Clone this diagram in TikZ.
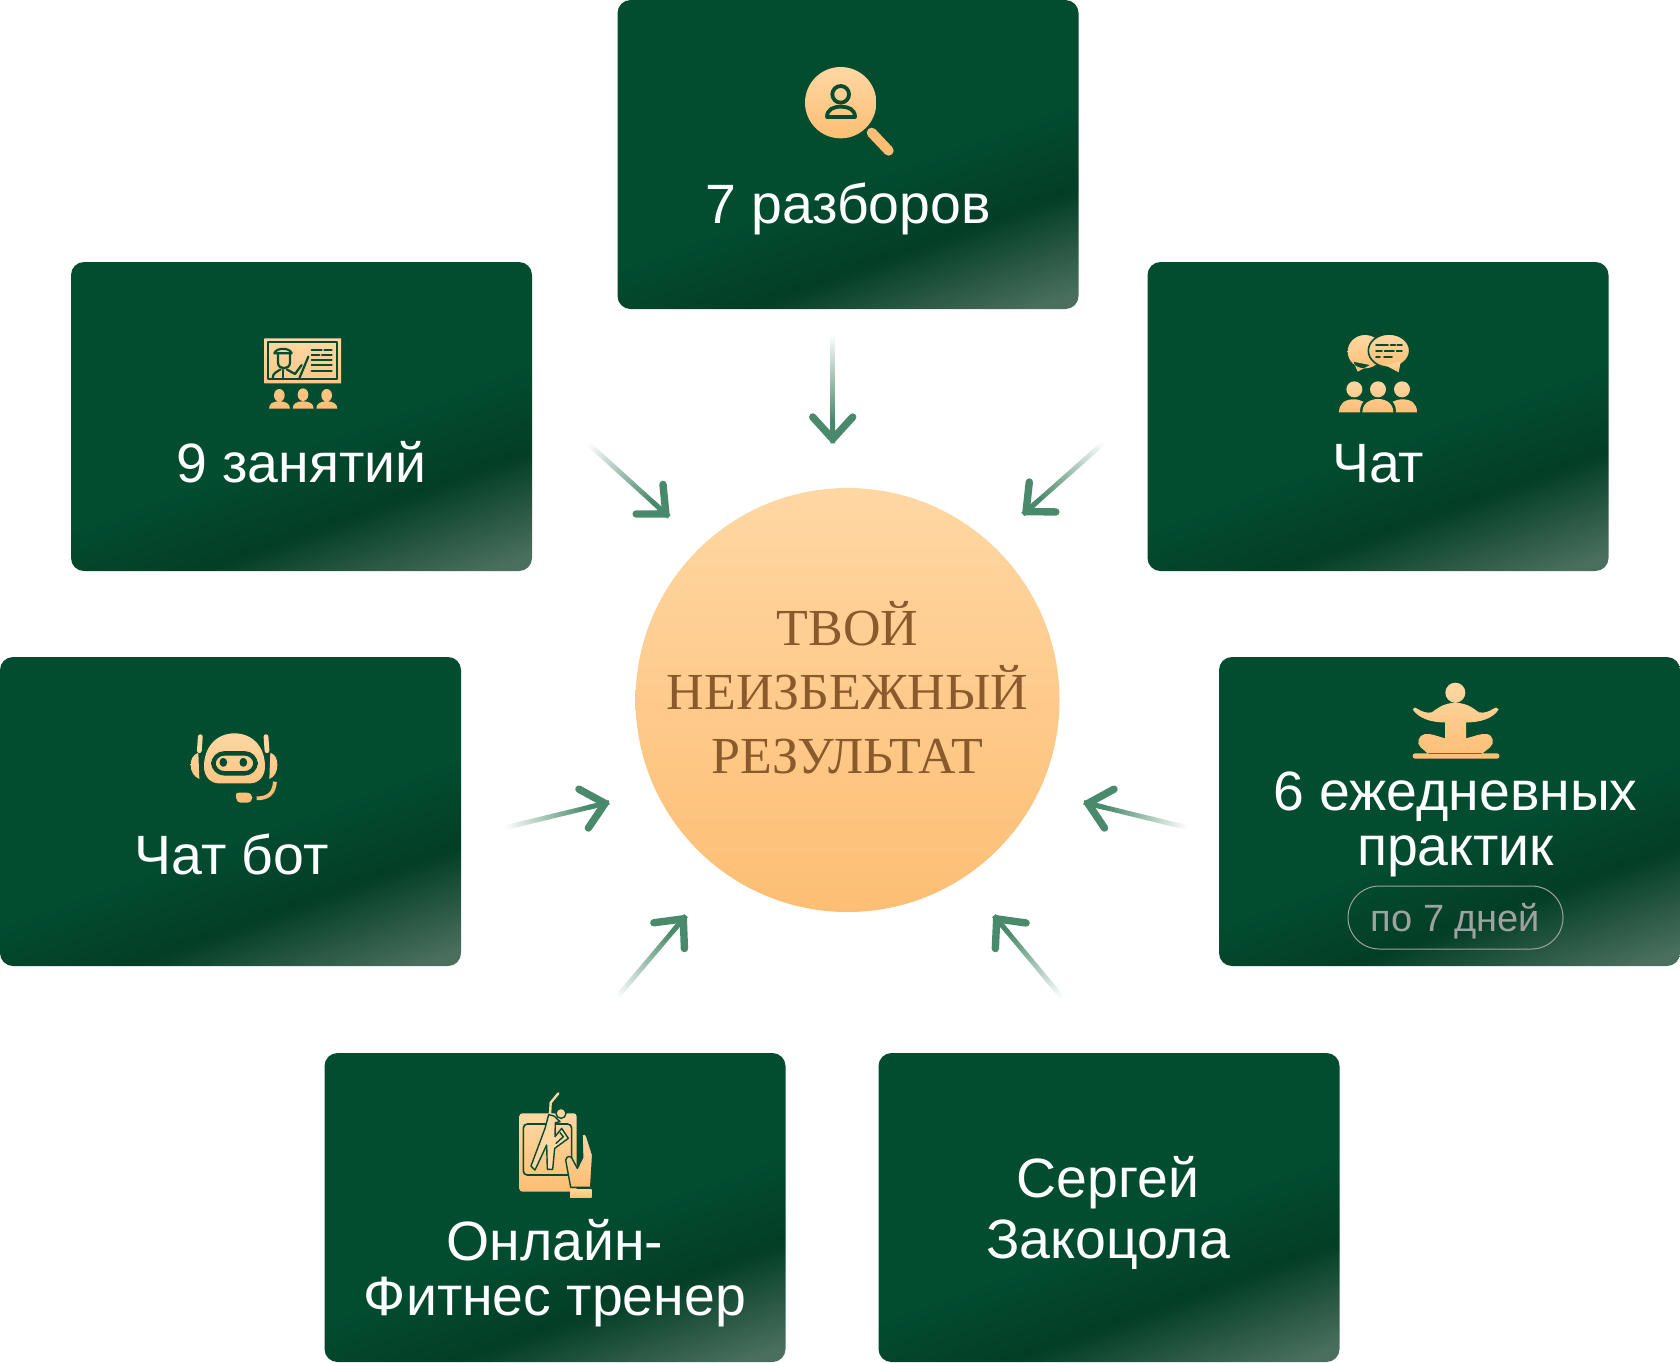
\documentclass[tikz,border=0pt]{standalone}
\usepackage{fontspec}
\setmainfont{Liberation Sans}
\newfontfamily\resultfont{Liberation Serif}
\usetikzlibrary{arrows.meta,calc}
\definecolor{cardgreen}{HTML}{024C30}
\definecolor{carddark}{HTML}{033E26}
\definecolor{cardlight}{HTML}{4A6F5E}
\definecolor{peachtop}{HTML}{FFD7A3}
\definecolor{peachlow}{HTML}{FDBE74}
\definecolor{arrowgreen}{HTML}{4A8A6C}
\definecolor{resultbrown}{HTML}{8A5A2C}
\definecolor{pillgray}{HTML}{9DA39F}
\pgfdeclareverticalshading{cardshade}{100bp}{color(0bp)=(cardlight); color(20bp)=(cardlight); color(34bp)=(carddark); color(46bp)=(cardgreen); color(100bp)=(cardgreen)}
\tikzset{
  card/.style={rectangle,shade,shading=cardshade,shading angle=20,rounded corners=6.5pt,
    minimum width=230.5pt,minimum height=154.5pt,inner sep=0pt},
  cardtext/.style={text=white,align=center,inner sep=0pt,font=\fontsize{27.7}{27.5}\selectfont},
  iconbox/.style={x=0.16667pt,y=-0.16667pt},
  iconfill/.style={top color=peachtop,bottom color=peachlow},
  iconline/.style={draw=cardgreen,line width=1.1pt,line cap=round,line join=round},
  iconstroke/.style={draw=peachlow,line cap=round,line join=round},
  shaft/.style={line width=2.4pt}
}
\newcommand{\fadearrow}[2]{
  \foreach \i in {0,...,39}{
    \pgfmathsetmacro{\mixpct}{min(100,\i*3.2)}
    \draw[shaft,arrowgreen!\mixpct!white]($(#1)!{\i/40}!(#2)$)--($(#1)!{(\i+1.2)/40}!(#2)$);
  }
  \draw[shaft,arrowgreen,-{Straight Barb[length=11pt,width=20pt,line width=3.7pt,round]}]($(#1)!0.8!(#2)$)--(#2);
}
\begin{document}
\begin{tikzpicture}[x=0.5pt,y=-0.5pt]
\useasboundingbox (0,0) rectangle (1680,1362);
%cards
\node[card] (razbor) at (848,154.5) {};
\node[card] (lessons) at (301.5,416.5) {};
\node[card] (chat) at (1378,416.5) {};
\node[card] (bot) at (230.5,811.5) {};
\node[card] (practice) at (1449.5,811.5) {};
\node[card] (trainer) at (555,1207.5) {};
\node[card] (sergey) at (1109,1207.5) {};
%result
\node[circle,top color=peachtop,bottom color=peachlow,minimum size=212pt,inner sep=0pt] (result) at (847.5,700) {};
\node[text=resultbrown,align=center,inner sep=0pt,font=\resultfont\fontsize{26}{32}\selectfont] (resulttext) at (847.5,687.5) {ТВОЙ\\НЕИЗБЕЖНЫЙ\\РЕЗУЛЬТАТ};
%labels
\node[cardtext,anchor=base] (razbortext) at (848,223) {7 разборов};
\node[cardtext,anchor=base] (lessonstext) at (301.5,482) {9 занятий};
\node[cardtext,anchor=base] (chattext) at (1378,482) {Чат};
\node[cardtext,anchor=base] (bottext) at (231.5,874) {Чат бот};
\node[cardtext] (practicetext) at (1455.5,824) {6 ежедневных\\практик};
\node[cardtext] (trainertext) at (555,1273) {Онлайн-\\Фитнес тренер};
\node[cardtext,font=\fontsize{27.7}{30.5}\selectfont] (sergeytext) at (1108,1213) {Сергей\\Закоцола};
\node[rectangle,draw=pillgray,line width=0.5pt,rounded corners=15.7pt,minimum width=107.5pt,minimum height=31.5pt,
  inner sep=0pt,text=pillgray,text height=14pt,text depth=0pt,font=\fontsize{19}{20}\selectfont] (days) at (1455.5,917.5) {по 7 дней};
%arrows
\coordinate (a1) at (832.7,333);
\coordinate (b1) at (832.7,442.7);
\coordinate (a2) at (1105,441.7);
\coordinate (b2) at (1023.3,514);
\coordinate (a3) at (587,442.5);
\coordinate (b3) at (668.6,516.4);
\coordinate (a4) at (503.6,828);
\coordinate (b4) at (608.6,802.5);
\coordinate (a5) at (1189,828);
\coordinate (b5) at (1084.3,802.5);
\coordinate (a6) at (616,998.6);
\coordinate (b6) at (685.7,916);
\coordinate (a7) at (1063,998.6);
\coordinate (b7) at (994.3,916);
\fadearrow{a1}{b1}
\fadearrow{a2}{b2}
\fadearrow{a3}{b3}
\fadearrow{a4}{b4}
\fadearrow{a5}{b5}
\fadearrow{a6}{b6}
\fadearrow{a7}{b7}
%search icon
\begin{scope}[shift={(600,0)},iconbox]
\path[iconfill] (722,308) circle[radius=107];
\draw[iconstroke,line width=5pt] (815,398)--(866,452);
\draw[iconline,line width=1.9pt] (722,283) circle[radius=25];
\draw[iconline,line width=1.9pt] (681,351)--(765,351) .. controls (765,328) and (745,320) .. (723,320) .. controls (700,320) and (681,328) .. (681,351)--cycle;
\end{scope}
%lessons icon
\begin{scope}[shift={(240,320)},iconbox]
\path[iconfill] (73,55) rectangle (303,190)
  (118,226) circle[x radius=16,y radius=19] (87,266) .. controls (87,250) and (100,244) .. (118,244) .. controls (136,244) and (150,250) .. (150,266)--cycle
  (189,224) circle[x radius=16,y radius=19] (158,266) .. controls (158,250) and (171,244) .. (189,244) .. controls (207,244) and (221,250) .. (221,266)--cycle
  (260,226) circle[x radius=16,y radius=19] (229,266) .. controls (229,250) and (242,244) .. (260,244) .. controls (278,244) and (292,250) .. (292,266)--cycle;
\draw[iconline] (85,67) rectangle (292,178);
\draw[iconline] (103,100) .. controls (108,82) and (150,82) .. (155,100)--cycle;
\draw[iconline] (114,102)--(114,128) .. controls (114,150) and (150,150) .. (150,128)--(150,102);
\draw[iconline] (98,175) .. controls (98,158) and (112,155) .. (122,148);
\draw[iconline] (140,148)--(165,162)--(185,135);
\draw[iconline] (178,175)--(205,110);
\draw[iconline] (130,150)--(130,172);
\draw[iconline] (215,90)--(245,90);
\draw[iconline] (253,90)--(275,90);
\draw[iconline] (215,104)--(238,104);
\draw[iconline] (246,104)--(275,104);
\draw[iconline] (215,120)--(275,120);
\draw[iconline] (215,135)--(275,135);
\draw[iconline] (215,152)--(275,152);
\end{scope}
%chat icon
\begin{scope}[shift={(1320,320)},iconbox]
\path[iconfill] (135,95) circle[x radius=52,y radius=50] (100,125)--(113,155)--(150,135)--cycle;
\path[iconfill,draw=cardgreen,line width=0.8pt] (207,92) circle[x radius=62,y radius=50];
\path[iconfill] (195,135)--(236,157)--(242,125)--cycle;
\draw[iconline,line width=0.9pt] (168,74)--(204,74);
\draw[iconline,line width=0.9pt] (212,74)--(226,74);
\draw[iconline,line width=0.9pt] (232,74)--(246,74);
\draw[iconline,line width=0.9pt] (168,92)--(186,92);
\draw[iconline,line width=0.9pt] (194,92)--(222,92);
\draw[iconline,line width=0.9pt] (230,92)--(246,92);
\draw[iconline,line width=0.9pt] (168,110)--(180,110);
\draw[iconline,line width=0.9pt] (192,110)--(216,110);
\path[iconfill] (103,208) circle[radius=24] (174,208) circle[radius=24] (246,208) circle[radius=24]
  (127,277) .. controls (127,250) and (150,237) .. (174,237) .. controls (198,237) and (220,250) .. (220,277)--cycle
  (57,277) .. controls (57,250) and (75,238) .. (100,238) .. controls (112,238) and (120,240) .. (130,245) .. controls (122,255) and (120,265) .. (120,277)--cycle
  (291,277) .. controls (291,250) and (273,238) .. (248,238) .. controls (236,238) and (228,240) .. (218,245) .. controls (226,255) and (228,265) .. (228,277)--cycle;
\end{scope}
%bot icon
\begin{scope}[shift={(170,720)},iconbox]
\path[iconfill] (102,140) .. controls (102,80) and (140,40) .. (193,40) .. controls (248,40) and (285,80) .. (285,140) .. controls (285,170) and (265,190) .. (240,190)--(147,190) .. controls (122,190) and (102,170) .. (102,140)--cycle
  (85,98) .. controls (68,105) and (62,118) .. (62,135) .. controls (62,155) and (72,170) .. (88,177)--cycle
  (301,98) .. controls (318,105) and (322,118) .. (322,135) .. controls (322,155) and (314,170) .. (298,177)--cycle
  (198,222) .. controls (198,218) and (205,218) .. (215,218)--(230,218) .. controls (240,218) and (247,225) .. (247,233) .. controls (247,242) and (240,248) .. (230,248)--(215,248) .. controls (205,248) and (198,242) .. (198,233)--cycle;
\draw[iconstroke,draw=peachtop,line width=2.4pt] (91,50)--(88,92);
\draw[iconstroke,draw=peachtop,line width=2.4pt] (288,50)--(291,92);
\draw[iconstroke,line width=1.9pt,line cap=butt] (260,235) .. controls (295,235) and (312,220) .. (315,185);
\draw[iconline,line width=2.2pt,rounded corners=5.5pt] (130,100) rectangle (257,160);
\draw[iconline,fill=cardgreen] (160,127) circle[x radius=8,y radius=10];
\draw[iconline,fill=cardgreen] (220,127) circle[x radius=8,y radius=10];
\end{scope}
%practice icon
\begin{scope}[shift={(1390,670)},iconbox]
\path[iconfill] (196,68) circle[radius=30]
  (68,118) .. controls (72,110) and (78,112) .. (82,116) .. controls (95,125) and (110,130) .. (125,127) .. controls (140,118) and (155,100) .. (196,98) .. controls (237,100) and (252,118) .. (267,127) .. controls (282,130) and (297,125) .. (310,116) .. controls (315,112) and (322,110) .. (326,118) .. controls (310,145) and (270,158) .. (228,157)--(228,205) .. controls (250,200) and (270,190) .. (290,192) .. controls (310,195) and (315,220) .. (300,232)--(275,252)--(115,252)--(92,232) .. controls (78,220) and (85,195) .. (105,192) .. controls (125,190) and (145,200) .. (165,205)--(165,157) .. controls (125,158) and (85,145) .. (68,118)--cycle
  {[rounded corners=1.2pt] (68,250) rectangle (328,266)};
\end{scope}
%trainer icon
\begin{scope}[shift={(500,1080)},iconbox]
\path[iconfill,rounded corners=1.5pt] (58,100) rectangle (230,335);
\draw[iconline,line width=0.8pt,rounded corners=2pt] (70,132) rectangle (215,285);
\draw[iconstroke,draw=peachtop,line width=1.2pt] (175,40)--(152,68)--(150,105);
\path[fill=peachtop,draw=cardgreen,line width=0.7pt,line join=round] (183,100) circle[radius=15];
\path[fill=peachtop,draw=cardgreen,line width=0.7pt,line join=round] (146,104)--(135,145)--(93,258)--(105,270)--(140,195)--(142,268)--(158,268)--(164,205)--(205,175)--(185,145)--(165,170)--(166,128)--(180,125)--(162,108)--cycle;
\draw[iconline,line width=0.7pt] (180,158)--(190,170)--(168,190);
\path[iconfill,draw=cardgreen,line width=0.7pt,line join=round] (246,165) .. controls (250,158) and (258,160) .. (260,168)--(278,225)--(272,322)--(212,322)--(197,240) .. controls (200,228) and (210,226) .. (216,235)--(232,265)--(248,232)--cycle;
\path[iconfill] (210,327) rectangle (275,352);
\end{scope}
\end{tikzpicture}
\end{document}
